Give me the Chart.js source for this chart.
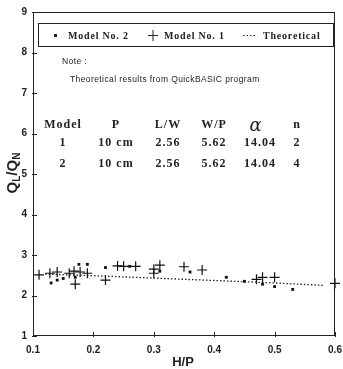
<!DOCTYPE html>
<html>
<head>
<meta charset="utf-8">
<script src="https://cdn.jsdelivr.net/npm/chart.js@4.4.0/dist/chart.umd.min.js"></script>
<style>
  body { margin: 0; background: #fff; }
  canvas { display: block; }
</style>
</head>
<body>
<canvas id="ratioChart" width="343" height="369"></canvas>
<script>
// Model No. 2 measurements (dots)
const model2X = [0.13, 0.14, 0.15, 0.17, 0.176, 0.19, 0.22, 0.26, 0.31, 0.36, 0.42, 0.45, 0.48, 0.50, 0.53];
const model2Y = [2.31, 2.38, 2.42, 2.45, 2.77, 2.77, 2.69, 2.72, 2.60, 2.58, 2.45, 2.35, 2.28, 2.22, 2.15];

// Model No. 1 measurements (crosses)
const model1X = [0.11, 0.128, 0.14, 0.16, 0.168, 0.17, 0.178, 0.19, 0.22, 0.24, 0.25, 0.27, 0.30, 0.30, 0.31, 0.35, 0.38, 0.47, 0.48, 0.50, 0.60];
const model1Y = [2.51, 2.55, 2.58, 2.55, 2.60, 2.28, 2.58, 2.55, 2.38, 2.73, 2.72, 2.72, 2.65, 2.55, 2.75, 2.71, 2.63, 2.40, 2.45, 2.45, 2.30];

// Theoretical curve
const theoryX = [0.12, 0.2, 0.3, 0.4, 0.5, 0.58];
const theoryY = [2.53, 2.49, 2.43, 2.37, 2.31, 2.25];

const xTicks = [0.1, 0.2, 0.3, 0.4, 0.5, 0.6];
const yTicks = [1, 2, 3, 4, 5, 6, 7, 8, 9];

// Parameter table shown inside the plot
const tableHeader = ['Model', 'P', 'L/W', 'W/P', 'α', 'n'];
const tableRows = [
  ['1', '10 cm', '2.56', '5.62', '14.04', '2'],
  ['2', '10 cm', '2.56', '5.62', '14.04', '4']
];

const toPoints = (xs, ys) => xs.map((x, i) => ({ x: x, y: ys[i] }));

// frame, inward ticks, titles, legend box and note text
const decorations = {
  id: 'decorations',
  afterDraw(chart) {
    const ctx = chart.ctx;
    const area = chart.chartArea;
    const xs = chart.scales.x;
    const ys = chart.scales.y;
    ctx.save();
    ctx.strokeStyle = '#222';
    ctx.lineWidth = 1;
    ctx.strokeRect(area.left + 0.5, area.top + 0.5, area.right - area.left - 1, area.bottom - area.top - 1);

    ctx.beginPath();
    yTicks.forEach(v => {
      const py = Math.round(ys.getPixelForValue(v)) + 0.5;
      ctx.moveTo(area.left - 1, py);
      ctx.lineTo(area.left + 4, py);
    });
    xTicks.forEach(v => {
      const px = Math.round(xs.getPixelForValue(v)) + 0.5;
      ctx.moveTo(px, area.bottom + 1);
      ctx.lineTo(px, area.bottom - 4);
    });
    ctx.stroke();

    // x axis title
    ctx.fillStyle = '#222';
    ctx.font = 'bold 13px "Liberation Sans"';
    ctx.textAlign = 'center';
    ctx.textBaseline = 'middle';
    ctx.fillText('H/P', 183, 362);

    // y axis title Q_L/Q_N
    ctx.save();
    ctx.translate(13, 173);
    ctx.rotate(-Math.PI / 2);
    const big = 'bold 15px "Liberation Sans"';
    const small = 'bold 10px "Liberation Sans"';
    const parts = [['Q', big, 0], ['L', small, 4], ['/', big, 0], ['Q', big, 0], ['N', small, 4]];
    let total = 0;
    parts.forEach(p => { ctx.font = p[1]; total += ctx.measureText(p[0]).width; });
    let cx = -total / 2;
    ctx.textAlign = 'left';
    parts.forEach(p => {
      ctx.font = p[1];
      ctx.fillText(p[0], cx, p[2]);
      cx += ctx.measureText(p[0]).width;
    });
    ctx.restore();

    // legend box
    ctx.strokeRect(38.5, 23.5, 295, 23);
    ctx.font = 'bold 10px "Liberation Serif"';
    ctx.letterSpacing = '0.8px';
    ctx.textAlign = 'left';
    ctx.fillRect(54, 34, 3, 3);
    ctx.fillText('Model No. 2', 68, 36);
    ctx.beginPath();
    ctx.moveTo(148, 35.5); ctx.lineTo(158, 35.5);
    ctx.moveTo(153, 30); ctx.lineTo(153, 41);
    ctx.stroke();
    ctx.fillText('Model No. 1', 164, 36);
    ctx.setLineDash([1.5, 2]);
    ctx.beginPath();
    ctx.moveTo(243, 35.5); ctx.lineTo(257, 35.5);
    ctx.stroke();
    ctx.setLineDash([]);
    ctx.fillText('Theoretical', 263, 36);

    // note
    ctx.letterSpacing = '0.4px';
    ctx.font = '8.5px "Liberation Sans"';
    ctx.fillText('Note :', 62, 62);
    ctx.fillText('Theoretical results from QuickBASIC program', 70, 80);

    // parameter table
    const colX = [63, 116, 168, 214, 256, 297];
    const rowY = [125, 143, 164];
    ctx.textAlign = 'center';
    ctx.letterSpacing = '1px';
    tableHeader.forEach((t, i) => {
      ctx.font = t === 'α' ? 'italic 18px "DejaVu Serif"' : 'bold 12px "Liberation Serif"';
      ctx.fillText(t, colX[i], rowY[0] + (t === 'α' ? 1 : 0));
    });
    ctx.font = 'bold 12px "Liberation Serif"';
    tableRows.forEach((row, r) => {
      row.forEach((t, i) => ctx.fillText(t, colX[i] + (i === 4 ? 4 : 0), rowY[r + 1]));
    });
    ctx.restore();
  }
};

new Chart(document.getElementById('ratioChart').getContext('2d'), {
  type: 'scatter',
  data: {
    datasets: [
      {
        label: 'Theoretical',
        type: 'line',
        data: toPoints(theoryX, theoryY),
        borderColor: '#222',
        borderWidth: 1.3,
        borderDash: [1.5, 2],
        pointRadius: 0,
        fill: false
      },
      {
        label: 'Model No. 2',
        data: toPoints(model2X, model2Y),
        pointStyle: 'rect',
        pointRadius: 2,
        backgroundColor: '#111',
        borderColor: '#111',
        borderWidth: 0
      },
      {
        label: 'Model No. 1',
        data: toPoints(model1X, model1Y),
        pointStyle: 'cross',
        pointRadius: 5,
        borderColor: '#111',
        borderWidth: 1.2,
        clip: false
      }
    ]
  },
  options: {
    responsive: false,
    animation: false,
    layout: { padding: { left: 0, right: 8, top: 12, bottom: 0 } },
    plugins: {
      legend: { display: false },
      tooltip: { enabled: false }
    },
    scales: {
      x: {
        type: 'linear',
        min: 0.1,
        max: 0.6,
        afterFit: s => { s.height = 33; s.paddingLeft = 0; s.paddingRight = 0; },
        afterBuildTicks: s => { s.ticks = xTicks.map(v => ({ value: v })); },
        grid: { display: false, drawTicks: false },
        border: { display: false },
        ticks: {
          padding: 8,
          color: '#222',
          maxRotation: 0,
          font: { family: 'Liberation Sans', weight: 'bold', size: 10 },
          callback: v => v.toFixed(1)
        }
      },
      y: {
        min: 1,
        max: 9,
        afterFit: s => { s.width = 33; s.paddingTop = 0; s.paddingBottom = 0; },
        afterBuildTicks: s => { s.ticks = yTicks.map(v => ({ value: v })); },
        grid: { display: false, drawTicks: false },
        border: { display: false },
        ticks: {
          padding: 6,
          color: '#222',
          font: { family: 'Liberation Sans', weight: 'bold', size: 10 }
        }
      }
    }
  },
  plugins: [decorations]
});
</script>
</body>
</html>
